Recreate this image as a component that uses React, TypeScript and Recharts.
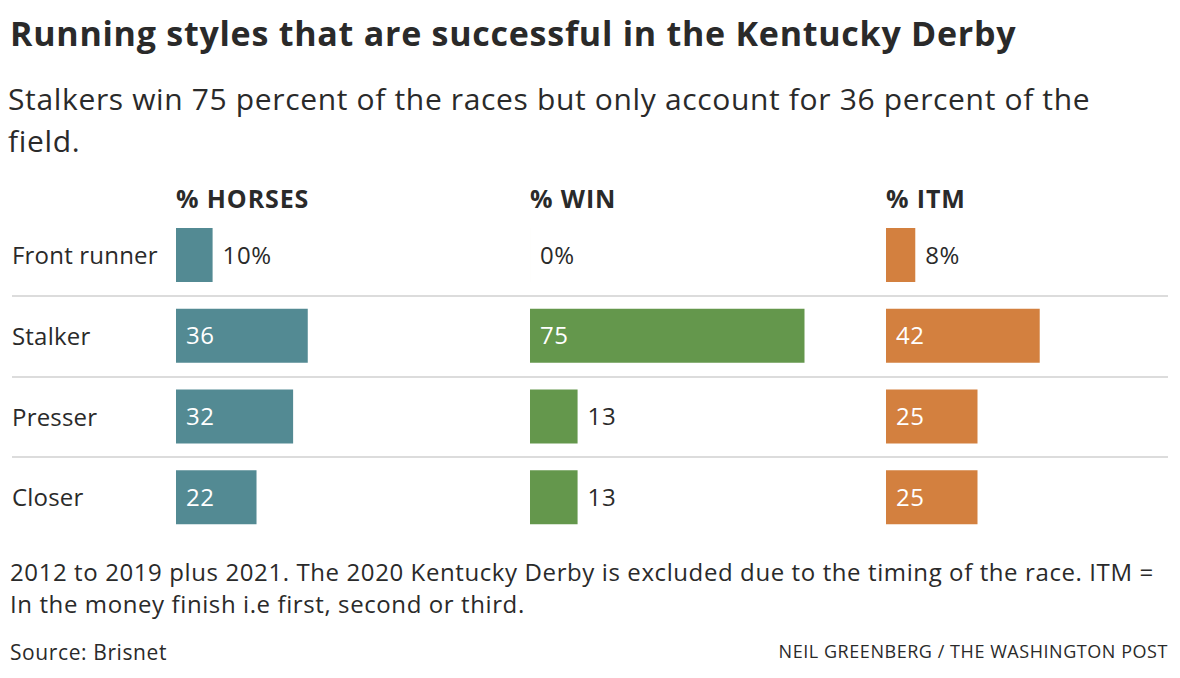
import React from "react";
import { BarChart, Bar, XAxis, YAxis, LabelList } from "recharts";

const categories = ["Front runner", "Stalker", "Presser", "Closer"];
const horses = [10, 36, 32, 22];
const wins = [0, 75, 13, 13];
const itm = [8, 42, 25, 25];
const columnTitles = ["% HORSES", "% WIN", "% ITM"];

const FONT = "'Open Sans', Roboto, sans-serif";
const DARK = "#2a2a2a";
const COLORS = ["#538a93", "#64974c", "#d3803f"];

const fmt = (v: number, i: number) => (i === 0 ? `${v}%` : `${v}`);

const rows = categories.map((c, i) => ({
  runStyle: c,
  horses: horses[i],
  wins: wins[i],
  itm: itm[i],
  horsesLabel: fmt(horses[i], i),
  winsLabel: fmt(wins[i], i),
  itmLabel: fmt(itm[i], i),
}));

const CHART_TOP = 215;
const CHART_H = 323;
const UNIT_W = 366; // width for 100 units
const COL_X = [176, 530, 886];

const makeLabel = (props: any) => {
  const { x, y, width, height, value } = props;
  const num = parseFloat(String(value));
  const inside = num >= 20;
  return (
    <text
      x={inside ? x + 10 : x + width + 10}
      y={y + height / 2}
      dy="0.36em"
      fill={inside ? "#ffffff" : DARK}
      fontSize={24}
      letterSpacing={0.6}
      fontFamily={FONT}
      textAnchor="start"
    >
      {value}
    </text>
  );
};

const RowTick = (props: any) => {
  const { y, payload } = props;
  return (
    <text x={12} y={y} dy="0.36em" fill={DARK} fontSize={24} letterSpacing={0.2} fontFamily={FONT} textAnchor="start">
      {payload.value}
    </text>
  );
};

const keys = ["horses", "wins", "itm"];

export default function App() {
  return (
    <div
      style={{
        position: "absolute",
        left: 0,
        top: 0,
        width: 1180,
        height: 678,
        background: "#fff",
        fontFamily: FONT,
        color: DARK,
        overflow: "hidden",
      }}
    >
      <div style={{ position: "absolute", left: 10, top: 13, fontSize: 34, fontWeight: 700, letterSpacing: 0.75, lineHeight: "40px", whiteSpace: "nowrap" }}>
        Running styles that are successful in the Kentucky Derby
      </div>
      <div style={{ position: "absolute", left: 8, top: 78, fontSize: 30, letterSpacing: 0.65, lineHeight: "42px", whiteSpace: "nowrap" }}>
        Stalkers win 75 percent of the races but only account for 36 percent of the
        <br />
        field.
      </div>
      {columnTitles.map((t, i) => (
        <div
          key={t}
          style={{ position: "absolute", left: COL_X[i], top: 185, fontSize: 25, fontWeight: 700, letterSpacing: 0.9, lineHeight: "26px", whiteSpace: "nowrap" }}
        >
          {t}
        </div>
      ))}
      {[1, 2, 3].map((k) => (
        <div
          key={k}
          style={{
            position: "absolute",
            left: 12,
            width: 1156,
            top: CHART_TOP + (CHART_H / 4) * k - 1,
            height: 2,
            background: "#dcdcdc",
          }}
        />
      ))}
      {keys.map((k, i) => (
        <div key={k} style={{ position: "absolute", left: i === 0 ? 0 : COL_X[i], top: CHART_TOP }}>
          <BarChart
            width={(i === 0 ? COL_X[0] : 0) + UNIT_W}
            height={CHART_H}
            data={rows}
            layout="vertical"
            margin={{ top: 0, right: 0, bottom: 0, left: 0 }}
          >
            <XAxis type="number" domain={[0, 100]} hide />
            <YAxis
              type="category"
              dataKey="runStyle"
              hide={i !== 0}
              width={i === 0 ? COL_X[0] : 0}
              axisLine={false}
              tickLine={false}
              tick={<RowTick />}
            />
            <Bar dataKey={k} fill={COLORS[i]} barSize={54} minPointSize={0.01} isAnimationActive={false}>
              <LabelList dataKey={`${k}Label`} content={makeLabel} />
            </Bar>
          </BarChart>
        </div>
      ))}
      <div style={{ position: "absolute", left: 10, top: 556, fontSize: 24, letterSpacing: 0.6, lineHeight: "32px", whiteSpace: "nowrap" }}>
        2012 to 2019 plus 2021. The 2020 Kentucky Derby is excluded due to the timing of the race. ITM =
        <br />
        In the money finish i.e first, second or third.
      </div>
      <div style={{ position: "absolute", left: 10, top: 641, fontSize: 21, letterSpacing: 0.6, lineHeight: "22px", whiteSpace: "nowrap" }}>
        Source: Brisnet
      </div>
      <div style={{ position: "absolute", right: 12, top: 641, fontSize: 18, letterSpacing: 0.55, lineHeight: "20px", whiteSpace: "nowrap" }}>
        NEIL GREENBERG / THE WASHINGTON POST
      </div>
    </div>
  );
}
